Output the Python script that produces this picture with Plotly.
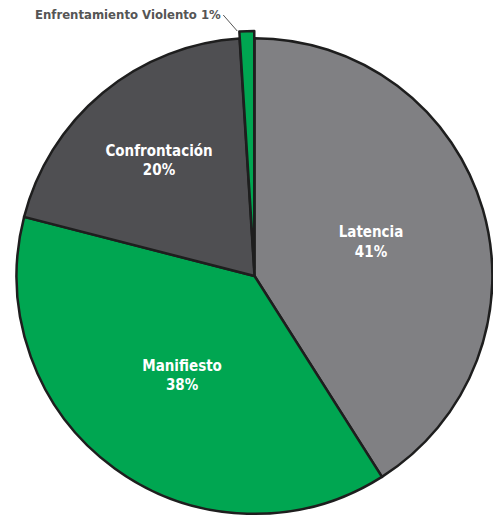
import plotly.graph_objects as go

labels = ["Latencia", "Manifiesto", "Confrontación", "Enfrentamiento Violento"]
values = [41, 38, 20, 1]
colors = ["#808083", "#00a651", "#4f4f52", "#00a651"]

inside_text = [f"<b>{l}<br>{v}%</b>" if i < 3 else "" for i, (l, v) in enumerate(zip(labels, values))]

FONT = "DejaVu Sans Condensed, Liberation Sans Narrow, sans-serif"

fig = go.Figure(go.Pie(
    labels=labels,
    values=values,
    sort=False,
    direction="clockwise",
    rotation=0,
    marker=dict(colors=colors, line=dict(color="#1e1e1e", width=2.5)),
    text=inside_text,
    textinfo="text",
    textposition="inside",
    insidetextorientation="horizontal",
    textfont=dict(family=FONT, size=15, color="white"),
    pull=[0, 0, 0, 0.03],
    hoverinfo="label+percent",
    showlegend=False,
))

fig.add_annotation(
    text=f"<b>{labels[3]} {values[3]}%</b>",
    x=0.465, y=1.0, xref="paper", yref="paper",
    ax=-14, ay=-16,
    showarrow=True, arrowhead=0, arrowwidth=1, arrowcolor="#555555",
    xanchor="right",
    font=dict(family=FONT, size=13, color="#555555"),
)

fig.update_layout(
    width=501, height=516,
    margin=dict(l=0, r=8, t=23, b=3),
    paper_bgcolor="white",
    plot_bgcolor="white",
)

fig.write_html("out.html")
